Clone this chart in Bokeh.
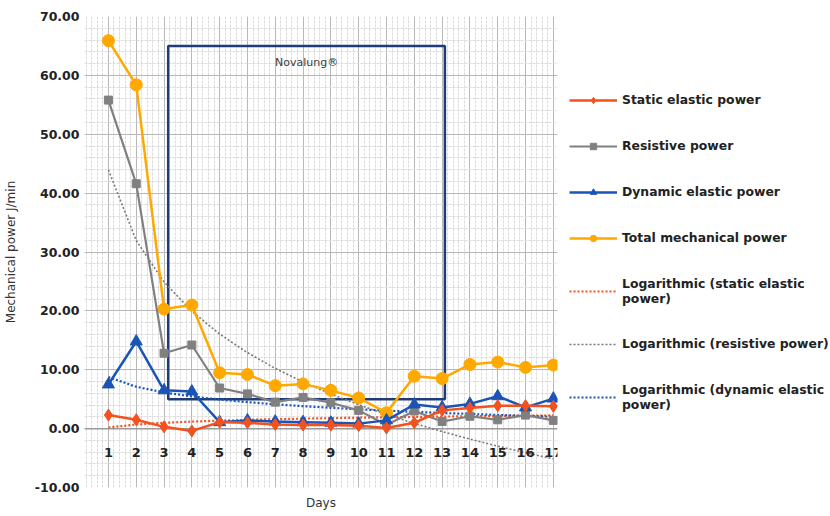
import numpy as np
from bokeh.plotting import figure
from bokeh.models import (FixedTicker, NumeralTickFormatter, Legend, LegendItem, Range1d,
                          LabelSet, ColumnDataSource)
from bokeh.core.properties import value
from bokeh.embed import file_html
from bokeh.resources import INLINE

# ---------------- data ----------------
days = list(range(1, 18))
day_labels = [str(d) for d in days]
static_elastic = [2.3, 1.5, 0.3, -0.4, 1.1, 1.0, 0.7, 0.6, 0.6, 0.5, 0.1, 1.0, 3.1, 3.5, 3.9, 3.9, 3.8]
resistive = [55.8, 41.6, 12.8, 14.2, 6.9, 5.9, 4.5, 5.3, 4.4, 3.1, 0.6, 3.0, 1.2, 2.1, 1.5, 2.3, 1.4]
dynamic_elastic = [7.5, 14.8, 6.5, 6.3, 1.1, 1.4, 1.2, 1.1, 1.0, 0.85, 1.4, 4.1, 3.6, 4.2, 5.5, 3.6, 5.1]
total_power = [65.9, 58.4, 20.3, 21.0, 9.5, 9.2, 7.3, 7.6, 6.5, 5.2, 2.7, 8.9, 8.5, 10.9, 11.3, 10.4, 10.8]
y_ticks = [-10, 0, 10, 20, 30, 40, 50, 60, 70]

# Novalung period box (days / J/min)
nova_left, nova_right, nova_bottom, nova_top = 3.15, 13.1, 5.0, 65.0
nova_text = "Novalung®"


def log_fit(vals):
    b, a = np.polyfit(np.log(days), vals, 1)
    return list(a + b * np.log(days))


log_static = log_fit(static_elastic)
log_resistive = log_fit(resistive)
log_dynamic = log_fit(dynamic_elastic)

C_STATIC = "#F4511E"
C_RES = "#808080"
C_DYN = "#1A55B5"
C_TOT = "#FFA800"
C_BOX = "#1F3C78"

p = figure(frame_width=473, frame_height=471, output_backend="svg", toolbar_location=None,
           x_range=Range1d(0.14, 17.15), y_range=Range1d(-10, 70),
           min_border_left=80, min_border_top=16, min_border_right=0,
           min_border_bottom=6)
p.outline_line_color = None
p.background_fill_color = "white"

# axes
p.yaxis.ticker = FixedTicker(ticks=y_ticks, minor_ticks=list(np.arange(-10, 70.1, 2)))
p.yaxis.formatter = NumeralTickFormatter(format="0.00")
p.yaxis.axis_label = "Mechanical power J/min"
p.yaxis.axis_label_text_font = "DejaVu Sans"
p.yaxis.axis_label_text_font_style = "normal"
p.yaxis.axis_label_text_font_size = "12px"
p.yaxis.axis_label_text_color = "#333333"
p.yaxis.axis_label_standoff = 14
p.yaxis.major_label_text_font = "DejaVu Sans"
p.yaxis.major_label_text_font_style = "bold"
p.yaxis.major_label_text_font_size = "12.5px"
p.yaxis.major_label_text_color = "#222222"
p.yaxis.axis_line_color = None
p.yaxis.major_tick_line_color = None
p.yaxis.minor_tick_line_color = None
p.yaxis.major_tick_out = 0
p.yaxis.minor_tick_out = 0
p.yaxis.major_label_standoff = 5

p.xaxis.ticker = FixedTicker(ticks=days, minor_ticks=list(np.arange(0.2, 17.1, 0.2)))
p.xaxis.major_label_overrides = {d: "" for d in days}
p.xaxis.axis_line_color = None
p.xaxis.major_tick_line_color = None
p.xaxis.minor_tick_line_color = None
p.xaxis.major_tick_out = 0
p.xaxis.minor_tick_out = 0
p.xaxis.major_label_standoff = 0
p.xaxis.axis_label = "Days"
p.xaxis.axis_label_text_font = "DejaVu Sans"
p.xaxis.axis_label_text_font_style = "normal"
p.xaxis.axis_label_text_font_size = "12px"
p.xaxis.axis_label_text_color = "#333333"
p.xaxis.axis_label_standoff = 8

# grids
for g in (p.xgrid, p.ygrid):
    g.grid_line_color = "#b8b8b8"
    g.grid_line_width = 1
    g.minor_grid_line_color = "#dcdcdc"
    g.minor_grid_line_width = 1
    g.minor_grid_line_dash = "3 1"

# zero line
p.line(x=[0.14, 17.15], y=[0, 0], line_color="#9a9a9a", line_width=1.5)

# x labels at the zero line (annotation, so the last one is not clipped)
lab_src = ColumnDataSource(dict(x=days, y=[-4.0] * len(days), t=day_labels))
p.add_layout(LabelSet(x="x", y="y", text="t", source=lab_src, text_align="center",
                      text_baseline="middle", text_font=value("DejaVu Sans"),
                      text_font_style="bold", text_font_size=value("13px"),
                      text_color="#222222"))

# Novalung box
p.quad(left=[nova_left], right=[nova_right], bottom=[nova_bottom], top=[nova_top],
       fill_alpha=0, line_color=C_BOX, line_width=2.5)
p.text(x=[(nova_left + nova_right) / 2], y=[nova_top - 2.8], text=[nova_text],
       text_align="center", text_baseline="middle", text_font=value("DejaVu Sans"),
       text_font_size="11px", text_color="#404040")

# trendlines
r_ls = p.line(days, log_static, line_color=C_STATIC, line_width=2.2, line_dash="2 2")
r_lr = p.line(days, log_resistive, line_color="#7a7a7a", line_width=1.6, line_dash="2 2")
r_ld = p.line(days, log_dynamic, line_color=C_DYN, line_width=2.2, line_dash="2 2")

# series
r_tot = p.line(days, total_power, line_color=C_TOT, line_width=2.5)
m_tot = p.scatter(days, total_power, marker="circle", size=12, fill_color=C_TOT, line_color=C_TOT)
r_res = p.line(days, resistive, line_color=C_RES, line_width=2.2)
m_res = p.scatter(days, resistive, marker="square", size=8, fill_color=C_RES, line_color=C_RES)
r_dyn = p.line(days, dynamic_elastic, line_color=C_DYN, line_width=2.5)
m_dyn = p.scatter(days, dynamic_elastic, marker="triangle", size=12, fill_color=C_DYN, line_color=C_DYN)
r_st = p.line(days, static_elastic, line_color=C_STATIC, line_width=2.5)
m_st = p.scatter(days, static_elastic, marker="diamond", size=12, fill_color=C_STATIC, line_color=C_STATIC)

legend = Legend(items=[
    LegendItem(label="Static elastic power", renderers=[r_st, m_st]),
    LegendItem(label="Resistive power", renderers=[r_res, m_res]),
    LegendItem(label="Dynamic elastic power", renderers=[r_dyn, m_dyn]),
    LegendItem(label="Total mechanical power", renderers=[r_tot, m_tot]),
    LegendItem(label="Logarithmic (static elastic\npower)", renderers=[r_ls]),
    LegendItem(label="Logarithmic (resistive power)", renderers=[r_lr]),
    LegendItem(label="Logarithmic (dynamic elastic\npower)", renderers=[r_ld]),
], location="center_left")
legend.border_line_color = None
legend.background_fill_alpha = 0
legend.label_text_font = "DejaVu Sans"
legend.label_text_font_style = "bold"
legend.label_text_font_size = "12.4px"
legend.label_text_color = "#222222"
legend.glyph_width = 48
legend.glyph_height = 16
legend.label_height = 16
legend.spacing = 30
legend.label_standoff = 5
legend.margin = 12
legend.padding = 8
p.add_layout(legend, "right")

open("out.html", "w").write(file_html(p, INLINE))
